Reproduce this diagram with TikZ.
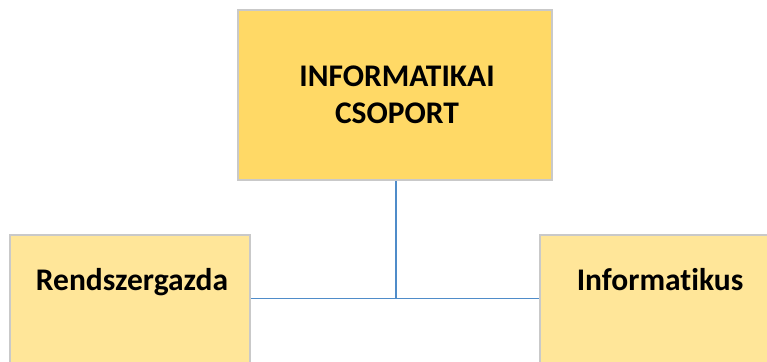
\documentclass[tikz,border=0pt]{standalone}
\usepackage{fontspec}
\setmainfont[Ligatures=NoCommon]{Carlito}
\definecolor{headfill}{HTML}{FFD966}
\definecolor{subfill}{HTML}{FFE699}
\definecolor{boxline}{HTML}{C9C9C9}
\definecolor{linkblue}{HTML}{4F8CC9}
\tikzset{
  orgbox/.style={draw=boxline, line width=1.8pt, rectangle, inner sep=0pt},
  headbox/.style={orgbox, fill=headfill, minimum width=314pt, minimum height=170pt},
  subbox/.style={orgbox, fill=subfill, minimum width=240pt, minimum height=170pt},
  boxtext/.style={font=\fontsize{31.5}{37}\selectfont\bfseries, align=center, inner sep=0pt},
  link/.style={draw=linkblue, line width=1.8pt}
}
\begin{document}
\begin{tikzpicture}[x=1pt, y=-1pt]
  \useasboundingbox (0,0) rectangle (767,361);
  \begin{scope}
    \clip (0,0) rectangle (767,361);
    % boxes
    \node[headbox] (top) at (395,95) {};
    \node[subbox] (left) at (130,320) {};
    \node[subbox] (right) at (660,320) {};
    % connectors
    \coordinate (j) at (396,298.5);
    \draw[link] (top.south -| j) -- (j);
    \draw[link] (left.east |- j) -- (right.west |- j);
    % labels
    \node[boxtext] (toptext) at (397,95) {INFORMATIKAI\\CSOPORT};
    \node[boxtext, anchor=base] (lefttext) at (132,290) {Rendszergazda};
    \node[boxtext, anchor=base] (righttext) at (660,290) {Informatikus};
  \end{scope}
\end{tikzpicture}
\end{document}
